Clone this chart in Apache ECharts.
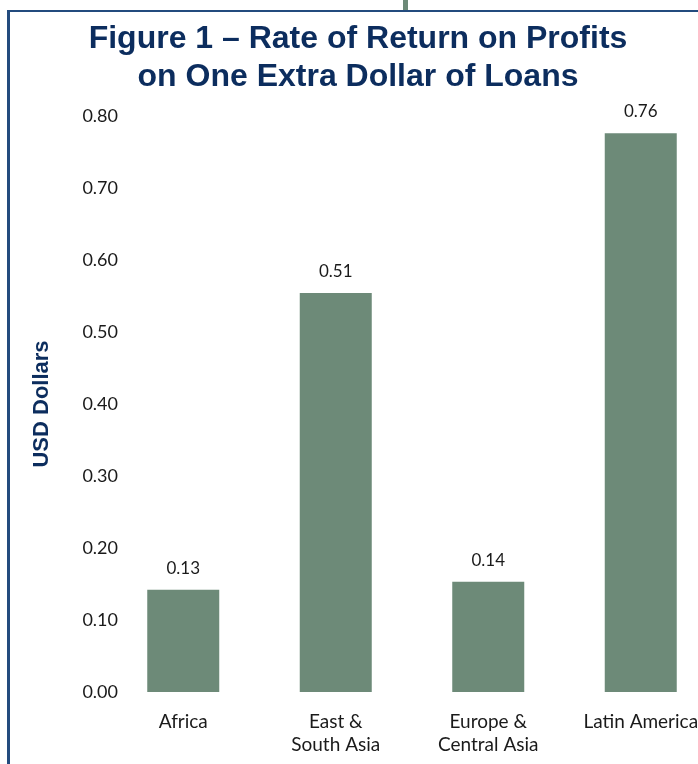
<!DOCTYPE html>
<html>
<head>
<meta charset="utf-8">
<script src="https://cdn.jsdelivr.net/npm/echarts@6/dist/echarts.min.js"></script>
<style>
html,body{margin:0;padding:0;background:#fff;}
#chart{width:698px;height:764px;}
</style>
</head>
<body>
<div id="chart"></div>
<script>
const categories = ['Africa', 'East &\nSouth Asia', 'Europe &\nCentral Asia', 'Latin America'];
const values = [0.142, 0.554, 0.153, 0.776];
const valueLabels = ['0.13', '0.51', '0.14', '0.76'];
const yTicks = [0, 0.1, 0.2, 0.3, 0.4, 0.5, 0.6, 0.7, 0.8];

const chart = echarts.init(document.getElementById('chart'));
const navy = '#0c2d5e';
const barColor = '#6d8a78';
const font = 'Lato, "Open Sans", sans-serif';

chart.setOption({
  animation: false,
  title: {
    text: 'Figure 1 – Rate of Return on Profits\non One Extra Dollar of Loans',
    left: 353,
    textAlign: 'center',
    top: 15,
    textStyle: {
      fontFamily: '"Liberation Sans", Arial, sans-serif',
      fontWeight: 'bold',
      fontSize: 32,
      lineHeight: 38,
      color: navy
    }
  },
  graphic: [
    { type: 'rect', shape: { x: 7, y: 10, width: 3, height: 754 }, style: { fill: '#234b7e' }, silent: true },
    { type: 'rect', shape: { x: 7, y: 10, width: 691, height: 2 }, style: { fill: '#234b7e' }, silent: true },
    { type: 'rect', shape: { x: 403, y: 0, width: 5, height: 10 }, style: { fill: barColor }, silent: true }
  ],
  grid: { left: 107, top: 116, width: 610, height: 576, outerBoundsMode: 'none', containLabel: false },
  xAxis: {
    type: 'category',
    data: categories,
    axisLine: { show: false },
    axisTick: { show: false },
    axisLabel: {
      interval: 0,
      margin: 18,
      fontFamily: font,
      fontSize: 19,
      lineHeight: 23,
      color: '#1a1a1a'
    }
  },
  yAxis: {
    type: 'value',
    min: 0,
    max: 0.8,
    interval: 0.1,
    offset: -19,
    name: 'USD Dollars',
    nameLocation: 'middle',
    nameGap: 73,
    nameTextStyle: {
      fontFamily: '"Liberation Sans", Arial, sans-serif',
      fontWeight: 'bold',
      fontSize: 22,
      color: navy
    },
    axisLine: { show: false },
    axisTick: { show: false },
    splitLine: { show: false },
    axisLabel: {
      margin: 8,
      fontFamily: font,
      fontSize: 18,
      color: '#1a1a1a',
      formatter: function (v) { return v.toFixed(2); }
    }
  },
  series: [{
    type: 'bar',
    data: values,
    barWidth: 72,
    itemStyle: { color: barColor },
    label: {
      show: true,
      position: 'top',
      distance: 13,
      fontFamily: font,
      fontSize: 17,
      color: '#1a1a1a',
      formatter: function (p) { return valueLabels[p.dataIndex]; }
    }
  }]
});
</script>
</body>
</html>
